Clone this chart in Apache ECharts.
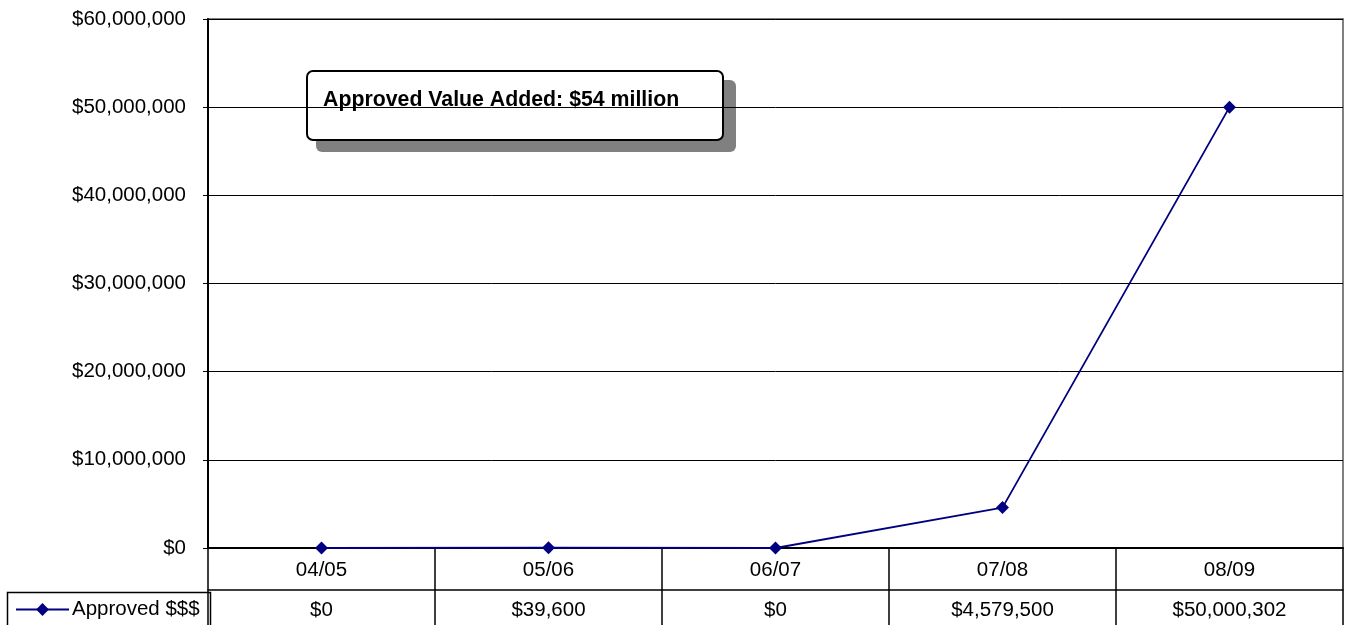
<!DOCTYPE html>
<html>
<head>
<meta charset="utf-8">
<script src="https://cdn.jsdelivr.net/npm/echarts@6/dist/echarts.min.js"></script>
<style>
html, body { margin: 0; padding: 0; background: #fff; }
#main { width: 1347px; height: 625px; }
</style>
</head>
<body>
<div id="main"></div>
<script>
var years = ['04/05', '05/06', '06/07', '07/08', '08/09'];
var approved = [0, 39600, 0, 4579500, 50000302];
var yTicks = [0, 10000000, 20000000, 30000000, 40000000, 50000000, 60000000];

function money(v) {
    return '$' + Math.round(v).toString().replace(/\B(?=(\d{3})+(?!\d))/g, ',');
}

var myChart = echarts.init(document.getElementById('main'));
var font = 'Liberation Sans, Arial, sans-serif';
var fs = 20.5;
option = {
    backgroundColor: '#fff',
    animation: false,
    textStyle: { fontFamily: font },
    grid: {
        left: 208, top: 19, right: 4, bottom: 77,
        show: true, borderColor: '#808080', borderWidth: 2
    },
    legend: {
        left: 10, top: 594,
        itemWidth: 53, itemHeight: 16, itemGap: 0,
        textStyle: { fontSize: fs, color: '#000', fontFamily: font, padding: [0, 0, 0, -2] },
        data: ['Approved $$$']
    },
    xAxis: [
        {
            type: 'category',
            data: years,
            axisLine: { lineStyle: { color: '#000', width: 2 } },
            axisTick: { show: true, interval: 0, length: 42, lineStyle: { color: '#000', width: 1.5 } },
            axisLabel: { color: '#000', fontSize: fs, margin: 12, interval: 0 }
        },
        {
            type: 'category',
            data: approved.map(money),
            position: 'bottom',
            offset: 42,
            axisLine: { lineStyle: { color: '#000', width: 1.5 } },
            axisTick: { show: true, interval: 0, length: 35, lineStyle: { color: '#000', width: 1.5 } },
            axisLabel: { color: '#000', fontSize: fs, margin: 10, interval: 0 }
        }
    ],
    yAxis: {
        type: 'value',
        min: yTicks[0],
        max: yTicks[yTicks.length - 1],
        interval: yTicks[1] - yTicks[0],
        axisLine: { show: true, lineStyle: { color: '#000', width: 2 } },
        axisTick: { show: true, length: 5, lineStyle: { color: '#000' } },
        splitLine: { lineStyle: { color: '#000', width: 1 } },
        axisLabel: { color: '#000', fontSize: fs, margin: 22, formatter: money }
    },
    graphic: [
        {
            type: 'rect', left: 5, top: 590,
            shape: { width: 203, height: 40 },
            style: { fill: 'none', stroke: '#000', lineWidth: 1.5 },
            z: 10
        },
        {
            type: 'rect', left: 316, top: 80,
            shape: { width: 420, height: 72, r: 6 },
            style: { fill: '#808080' }
        },
        {
            type: 'rect', left: 306, top: 70,
            shape: { width: 416, height: 69, r: 6 },
            style: { fill: '#fff', stroke: '#000', lineWidth: 2 }
        },
        {
            type: 'text', left: 323, top: 90,
            style: {
                text: 'Approved Value Added: $54 million',
                font: 'bold 21.3px ' + font,
                fill: '#000'
            }
        }
    ],
    series: [
        {
            name: 'Approved $$$',
            type: 'line',
            data: approved,
            symbol: 'diamond',
            symbolSize: 13,
            color: '#000080',
            lineStyle: { color: '#000080', width: 1.8 },
            itemStyle: { color: '#000080' }
        }
    ]
};
myChart.setOption(option);
</script>
</body>
</html>
